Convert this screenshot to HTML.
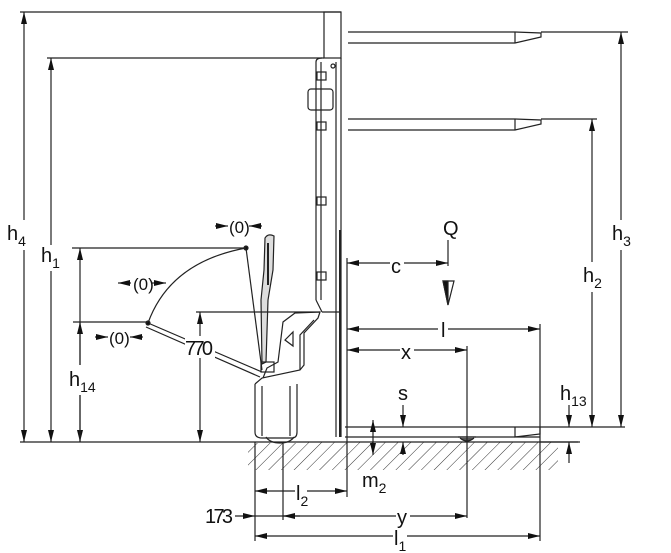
<!DOCTYPE html>
<html><head><meta charset="utf-8"><style>
html,body{margin:0;padding:0;background:#fff;}
svg{display:block;}
text{font-family:"Liberation Sans",sans-serif;fill:#111;}
</style></head><body>
<svg width="671" height="553" viewBox="0 0 671 553" xmlns="http://www.w3.org/2000/svg">
<defs>
<marker id="a" markerWidth="12" markerHeight="6" refX="12" refY="3" orient="auto-start-reverse" markerUnits="userSpaceOnUse"><path d="M0,0 L12,3 L0,6 Z" fill="#111"/></marker>
<pattern id="h" width="9" height="9" patternUnits="userSpaceOnUse" patternTransform="rotate(45)"><line x1="0" y1="0" x2="0" y2="9" stroke="#333" stroke-width="1"/></pattern>
</defs>
<g stroke="#222" stroke-width="1.2" fill="none">
<rect x="248" y="442" width="310" height="28" fill="url(#h)" stroke="none"/>
<rect x="252" y="442" width="48" height="1" fill="#fff" stroke="none"/>
<line x1="20" y1="442" x2="580" y2="442"/>
<line x1="20" y1="12" x2="341" y2="12"/>
<line x1="47" y1="58" x2="324" y2="58"/>
<rect x="324" y="12" width="17" height="46"/>
<line x1="341" y1="58" x2="341" y2="437"/>
<line x1="316" y1="62" x2="316" y2="300"/>
<path d="M316,62 Q316,58 322,58"/>
<line x1="321" y1="62" x2="321" y2="300"/>
<line x1="336" y1="62" x2="336" y2="300"/>
<line x1="316" y1="300" x2="322" y2="312"/>
<line x1="340" y1="230" x2="340" y2="437" stroke-width="2"/>
<line x1="336" y1="300" x2="336" y2="437"/>
<line x1="322" y1="312" x2="340" y2="312"/>
<circle cx="333" cy="66" r="2"/>
<rect x="308" y="89" width="25" height="21" rx="3"/>
<rect x="317" y="72" width="9" height="8"/><rect x="317" y="122" width="9" height="8"/>
<rect x="317" y="197" width="9" height="8"/><rect x="317" y="272" width="9" height="8"/>
<path d="M348,32 H515 L541,33 L541,37 L515,43 H348"/>
<line x1="515" y1="32" x2="515" y2="43"/>
<path d="M348,119 H515 L541,120 L541,124 L515,130 H348"/>
<line x1="515" y1="119" x2="515" y2="130"/>
<line x1="541" y1="32" x2="628" y2="32"/>
<line x1="541" y1="119" x2="597" y2="119"/>
<line x1="345" y1="427" x2="625" y2="427"/>
<path d="M515,427 L515,437 L540,434 L540,427"/>
<line x1="345" y1="437" x2="540" y2="437"/>
<line x1="458" y1="437" x2="476" y2="437"/>
<path d="M460,438 Q467,444 474,438" fill="#555"/>
<path d="M255,384 L255,432 Q255,438 262,438 L292,438 Q297,438 297,432 L297,384"/>
<line x1="262" y1="386" x2="262" y2="436"/><line x1="290" y1="386" x2="290" y2="436"/>
<path d="M266,437 Q270,443 280,443 Q290,443 294,437"/>
<path d="M255,384 L262,378 L300,370 L304,365 L304,333 L318,318 L320,312 L295,313 L283,322 L278,362 L267,368 L263,378"/>
<path d="M300,370 L300,335 L314,320"/>
<path d="M285,340 L293,332 L293,346 Z"/>
<path d="M265,238 Q268,233 274,236 L273,270 L268,300 L266,362 L262,364 L261,300 L264,270 Z" fill="#ddd"/>
<line x1="268" y1="243" x2="268" y2="285" stroke-width="2"/>
<rect x="261" y="362" width="13" height="10"/>
<line x1="246" y1="248" x2="262" y2="370"/>
<path d="M148,323 L262,372 M146,327 L260,377"/>
<path d="M148,323 Q170,262 246,248"/>
<circle cx="148" cy="323" r="2" fill="#111"/><circle cx="246" cy="248" r="2" fill="#111"/>
<line x1="24" y1="12" x2="24" y2="442" marker-start="url(#a)" marker-end="url(#a)"/>
<line x1="51" y1="58" x2="51" y2="442" marker-start="url(#a)" marker-end="url(#a)"/>
<line x1="72" y1="248" x2="246" y2="248"/>
<line x1="80" y1="248" x2="80" y2="442" marker-start="url(#a)" marker-end="url(#a)"/>
<line x1="73" y1="322" x2="148" y2="322"/>
<line x1="80" y1="322" x2="80" y2="442" marker-start="url(#a)"/>
<line x1="196" y1="312" x2="320" y2="312"/>
<line x1="200" y1="312" x2="200" y2="442" marker-start="url(#a)" marker-end="url(#a)"/>
<line x1="215" y1="226" x2="228" y2="226" marker-end="url(#a)"/><line x1="262" y1="226" x2="249" y2="226" marker-end="url(#a)"/>
<line x1="131" y1="283" x2="118" y2="283" marker-end="url(#a)"/><line x1="152" y1="283" x2="166" y2="283" marker-end="url(#a)"/>
<line x1="95" y1="337" x2="108" y2="337" marker-end="url(#a)"/><line x1="143" y1="337" x2="130" y2="337" marker-end="url(#a)"/>
<line x1="621" y1="32" x2="621" y2="427" marker-start="url(#a)" marker-end="url(#a)"/>
<line x1="592" y1="119" x2="592" y2="427" marker-start="url(#a)" marker-end="url(#a)"/>
<line x1="347" y1="258" x2="347" y2="497"/>
<line x1="347" y1="263" x2="448" y2="263" marker-start="url(#a)" marker-end="url(#a)"/>
<line x1="448" y1="240" x2="448" y2="266"/>
<path d="M443,281 L454,281 L448,305 Z" fill="#fff"/><path d="M443,281 L448,281 L448,305 Z" fill="#111"/>
<line x1="347" y1="329" x2="540" y2="329" marker-start="url(#a)" marker-end="url(#a)"/>
<line x1="540" y1="324" x2="540" y2="541"/>
<line x1="347" y1="350" x2="467" y2="350" marker-start="url(#a)" marker-end="url(#a)"/>
<line x1="467" y1="346" x2="467" y2="518"/>
<line x1="403" y1="405" x2="403" y2="427" marker-end="url(#a)"/>
<line x1="403" y1="455" x2="403" y2="442" marker-end="url(#a)"/>
<line x1="373" y1="455" x2="373" y2="420" marker-start="url(#a)" marker-end="url(#a)"/>
<line x1="569" y1="405" x2="569" y2="427" marker-end="url(#a)"/>
<line x1="569" y1="463" x2="569" y2="442" marker-end="url(#a)"/>
<line x1="540" y1="442" x2="578" y2="442"/>
<line x1="255" y1="442" x2="255" y2="541"/>
<line x1="283" y1="442" x2="283" y2="520"/>
<line x1="255" y1="491" x2="347" y2="491" marker-start="url(#a)" marker-end="url(#a)"/>
<line x1="235" y1="516" x2="255" y2="516" marker-end="url(#a)"/>
<line x1="255" y1="516" x2="467" y2="516" marker-end="url(#a)"/>
<line x1="300" y1="516" x2="283" y2="516" marker-end="url(#a)"/>
<line x1="255" y1="536" x2="540" y2="536" marker-start="url(#a)" marker-end="url(#a)"/>
</g>
<g font-size="20">
<rect x="4" y="220" width="26" height="30" fill="#fff"/>
<text x="7" y="240">h<tspan font-size="14" dy="6">4</tspan></text>
<rect x="40" y="245" width="24" height="26" fill="#fff"/>
<text x="41" y="262">h<tspan font-size="14" dy="6">1</tspan></text>
<rect x="68" y="365" width="28" height="30" fill="#fff"/>
<text x="69" y="386">h<tspan font-size="14" dy="6">14</tspan></text>
<rect x="185" y="336" width="30" height="22" fill="#fff"/>
<text x="185" y="355" textLength="28">770</text>
<text x="229" y="233" font-size="17">(0)</text>
<text x="133" y="290" font-size="17">(0)</text>
<text x="109" y="344" font-size="17">(0)</text>
<rect x="611" y="220" width="22" height="30" fill="#fff"/>
<text x="612" y="240">h<tspan font-size="14" dy="6">3</tspan></text>
<rect x="582" y="262" width="22" height="30" fill="#fff"/>
<text x="583" y="282">h<tspan font-size="14" dy="6">2</tspan></text>
<text x="443" y="235">Q</text>
<rect x="390" y="256" width="14" height="16" fill="#fff"/>
<text x="391" y="273">c</text>
<rect x="438" y="320" width="10" height="20" fill="#fff"/>
<text x="441" y="337">l</text>
<rect x="400" y="342" width="14" height="16" fill="#fff"/>
<text x="401" y="359">x</text>
<text x="398" y="400">s</text>
<text x="560" y="400">h<tspan font-size="14" dy="6">13</tspan></text>
<text x="362" y="487">m<tspan font-size="14" dy="6">2</tspan></text>
<rect x="295" y="482" width="12" height="26" fill="#fff"/>
<text x="296" y="500">l<tspan font-size="14" dy="6">2</tspan></text>
<text x="205" y="523" textLength="28">173</text>
<rect x="396" y="508" width="14" height="22" fill="#fff"/>
<text x="397" y="524">y</text>
<rect x="393" y="528" width="14" height="22" fill="#fff"/>
<text x="394" y="545">l<tspan font-size="14" dy="6">1</tspan></text>
</g>
</svg>
</body></html>
